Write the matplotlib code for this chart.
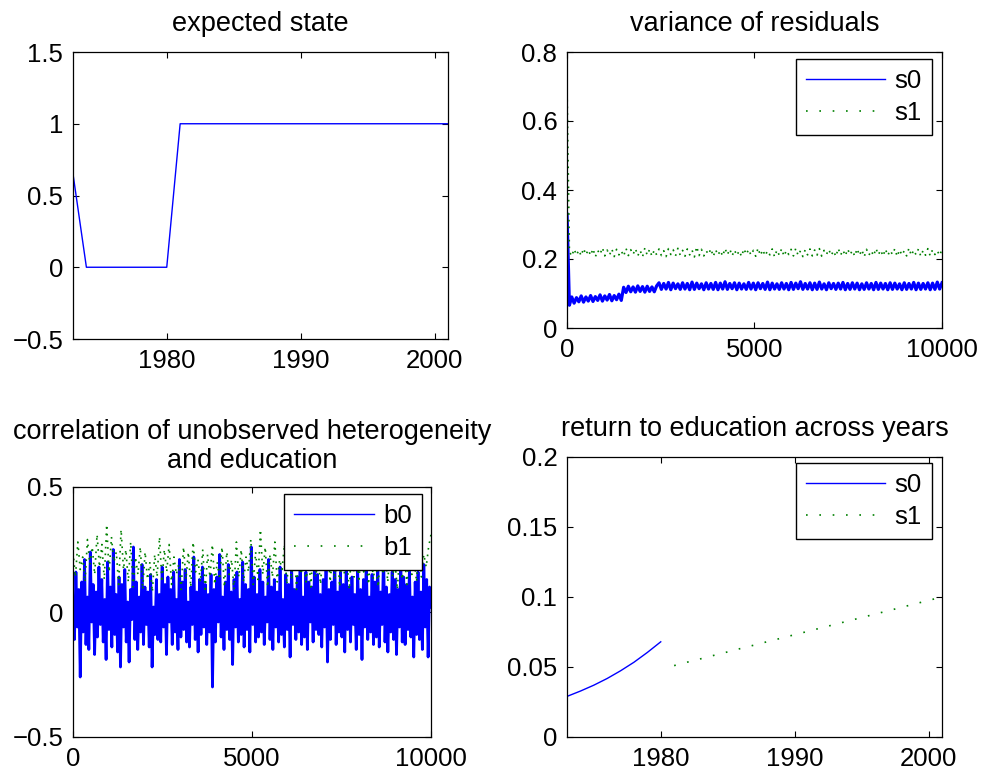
import numpy as np
import matplotlib
matplotlib.use("Agg")
import matplotlib.pyplot as plt
from matplotlib.lines import Line2D

plt.rcParams['font.family'] = ['Liberation Sans', 'DejaVu Sans']
FS = 18.5
TFS = 19.5

# ---------------- data ----------------
years_state = list(range(1973, 2002))
expected_state = [0.65] + [0.0] * 7 + [1.0] * 21

state_xticks = [1980, 1990, 2000]
state_yticks = [-0.5, 0, 0.5, 1, 1.5]
state_yticklabels = ['\u22120.5', '0', '0.5', '1', '1.5']

var_s0 = [
    0.330, 0.066, 0.090, 0.072, 0.088, 0.076, 0.093, 0.075, 0.090, 0.078,
    0.094, 0.077, 0.091, 0.080, 0.096, 0.078, 0.093, 0.081, 0.097, 0.079,
    0.094, 0.082, 0.098, 0.080, 0.118, 0.103, 0.121, 0.105, 0.119, 0.104,
    0.122, 0.106, 0.120, 0.104, 0.121, 0.106, 0.119, 0.105, 0.122, 0.131,
    0.112, 0.129, 0.113, 0.132, 0.111, 0.130, 0.114, 0.128, 0.112, 0.131,
    0.113, 0.129, 0.111, 0.133, 0.112, 0.130, 0.114, 0.128, 0.111, 0.131,
    0.113, 0.129, 0.112, 0.132, 0.111, 0.130, 0.113, 0.134, 0.112, 0.129,
    0.114, 0.131, 0.111, 0.130, 0.113, 0.128, 0.112, 0.132, 0.113, 0.130,
    0.111, 0.131, 0.114, 0.129, 0.112, 0.133, 0.111, 0.130, 0.113, 0.128,
    0.112, 0.131, 0.113, 0.129, 0.111, 0.132, 0.112, 0.130, 0.114, 0.134,
    0.112, 0.129, 0.113, 0.131, 0.111, 0.130, 0.112, 0.133, 0.113, 0.128,
    0.111, 0.131, 0.114, 0.129, 0.112, 0.130, 0.113, 0.132, 0.111, 0.129,
    0.112, 0.131, 0.113, 0.130, 0.111, 0.128, 0.112, 0.131, 0.113, 0.129,
    0.111, 0.132, 0.112, 0.130, 0.113, 0.129, 0.111, 0.131, 0.112, 0.130,
    0.113, 0.128, 0.111, 0.131, 0.112, 0.129, 0.113, 0.132, 0.111, 0.130,
    0.112, 0.129, 0.113, 0.131, 0.111, 0.130, 0.112, 0.133, 0.113, 0.131,
]
var_s1 = [
    0.700, 0.222, 0.208, 0.229, 0.211, 0.226, 0.209, 0.231, 0.212, 0.227,
    0.210, 0.230, 0.206, 0.225, 0.213, 0.233, 0.209, 0.226, 0.211, 0.229,
    0.207, 0.228, 0.212, 0.224, 0.208, 0.231, 0.210, 0.227, 0.213, 0.230,
    0.209, 0.225, 0.206, 0.232, 0.211, 0.228, 0.208, 0.226, 0.212, 0.229,
    0.210, 0.224, 0.207, 0.230, 0.213, 0.227, 0.209, 0.231, 0.211, 0.225,
    0.208, 0.229, 0.212, 0.226, 0.206, 0.236, 0.210, 0.228, 0.209, 0.224,
    0.213, 0.230, 0.207, 0.227, 0.211, 0.225, 0.208, 0.231, 0.212, 0.229,
    0.209, 0.226, 0.210, 0.224, 0.207, 0.230, 0.213, 0.228, 0.211, 0.225,
    0.208, 0.232, 0.210, 0.227, 0.209, 0.224, 0.212, 0.229, 0.206, 0.226,
    0.211, 0.230, 0.208, 0.225, 0.213, 0.228, 0.209, 0.231, 0.210, 0.224,
    0.207, 0.227, 0.212, 0.229, 0.209, 0.226, 0.211, 0.230, 0.208, 0.225,
    0.213, 0.228, 0.210, 0.224, 0.207, 0.231, 0.211, 0.226, 0.209, 0.229,
    0.212, 0.225, 0.208, 0.230, 0.210, 0.227, 0.206, 0.228, 0.211, 0.224,
    0.209, 0.231, 0.212, 0.226, 0.208, 0.229, 0.210, 0.225, 0.213, 0.230,
    0.207, 0.227, 0.211, 0.224, 0.209, 0.232, 0.210, 0.226, 0.212, 0.229,
    0.208, 0.225, 0.211, 0.230, 0.209, 0.227, 0.213, 0.224, 0.210, 0.228,
]
trace_xticks = [0, 5000, 10000]
var_yticks = [0, 0.2, 0.4, 0.6, 0.8]
var_yticklabels = ['0', '0.2', '0.4', '0.6', '0.8']

corr_b0 = [
    0.03, -0.11, 0.16, -0.06, 0.09, -0.26, 0.12, -0.08, 0.21, -0.13,
    0.06, -0.15, 0.24, -0.04, 0.11, -0.17, 0.08, -0.10, 0.18, -0.05,
    0.13, -0.12, 0.05, -0.19, 0.20, -0.07, 0.10, -0.14, 0.25, -0.09,
    0.07, -0.16, 0.14, -0.22, 0.11, -0.06, 0.17, -0.12, 0.04, -0.20,
    0.09, -0.03, 0.26, -0.11, 0.12, -0.15, 0.06, -0.08, 0.19, -0.13,
    0.10, -0.05, 0.08, -0.14, 0.15, -0.22, 0.02, -0.09, 0.13, -0.11,
    0.07, -0.12, 0.18, -0.06, 0.11, -0.17, 0.14, -0.04, 0.09, -0.13,
    0.16, -0.08, 0.05, -0.15, 0.21, -0.10, 0.12, -0.07, 0.17, -0.12,
    0.04, -0.14, 0.10, -0.05, 0.22, -0.11, 0.08, -0.16, 0.13, -0.09,
    0.18, -0.06, 0.11, -0.13, 0.07, -0.08, 0.15, -0.30, 0.09, -0.12,
    0.14, -0.04, 0.23, -0.10, 0.06, -0.15, 0.12, -0.07, 0.19, -0.11,
    0.08, -0.21, 0.13, -0.06, 0.16, -0.12, 0.05, -0.09, 0.20, -0.14,
    0.11, -0.07, 0.09, -0.16, 0.26, -0.05, 0.14, -0.12, 0.07, -0.10,
    0.17, -0.08, 0.12, -0.13, 0.06, -0.04, 0.21, -0.11, 0.10, -0.15,
    0.13, -0.06, 0.08, -0.12, 0.18, -0.09, 0.05, -0.14, 0.15, -0.07,
    0.11, -0.18, 0.19, -0.05, 0.09, -0.11, 0.14, -0.08, 0.23, -0.13,
    0.06, -0.10, 0.16, -0.15, 0.12, -0.04, 0.10, -0.12, 0.20, -0.07,
    0.15, -0.09, 0.07, -0.14, 0.13, -0.06, 0.18, -0.20, 0.09, -0.11,
    0.12, -0.05, 0.22, -0.13, 0.08, -0.08, 0.16, -0.10, 0.11, -0.16,
    0.19, -0.07, 0.10, -0.12, 0.14, -0.05, 0.07, -0.15, 0.17, -0.09,
    0.09, -0.19, 0.13, -0.06, 0.21, -0.11, 0.06, -0.08, 0.15, -0.13,
    0.12, -0.10, 0.18, -0.14, 0.08, -0.05, 0.24, -0.12, 0.10, -0.16,
    0.07, -0.08, 0.16, -0.11, 0.13, -0.17, 0.09, -0.06, 0.20, -0.12,
    0.14, -0.13, 0.11, -0.07, 0.17, -0.10, 0.06, -0.18, 0.12, -0.09,
    0.16, -0.11, 0.08, -0.15, 0.19, -0.06, 0.13, -0.18, 0.10, 0.02,
]
corr_b1 = [
    0.24, 0.14, 0.28, 0.17, 0.22, 0.12, 0.29, 0.19, 0.26, 0.15,
    0.31, 0.18, 0.27, 0.13, 0.35, 0.16, 0.30, 0.20, 0.24, 0.11,
    0.33, 0.17, 0.25, 0.12, 0.28, 0.10, 0.22, 0.15, 0.26, 0.09,
    0.24, 0.13, 0.20, 0.08, 0.23, 0.14, 0.30, 0.12, 0.25, 0.16,
    0.27, 0.11, 0.22, 0.15, 0.19, 0.09, 0.26, 0.13, 0.24, 0.10,
    0.28, 0.16, 0.21, 0.12, 0.25, 0.08, 0.23, 0.14, 0.27, 0.11,
    0.20, 0.13, 0.26, 0.10, 0.24, 0.15, 0.21, 0.09, 0.28, 0.14,
    0.25, 0.12, 0.22, 0.16, 0.29, 0.11, 0.24, 0.13, 0.33, 0.15,
    0.26, 0.10, 0.23, 0.14, 0.28, 0.12, 0.21, 0.17, 0.27, 0.11,
    0.24, 0.13, 0.30, 0.09, 0.22, 0.15, 0.26, 0.12, 0.23, 0.10,
    0.27, 0.14, 0.21, 0.11, 0.25, 0.16, 0.29, 0.12, 0.22, 0.13,
    0.26, 0.10, 0.24, 0.15, 0.20, 0.09, 0.27, 0.14, 0.23, 0.12,
    0.28, 0.16, 0.22, 0.11, 0.25, 0.13, 0.21, 0.10, 0.26, 0.15,
    0.23, 0.12, 0.27, 0.14, 0.20, 0.09, 0.24, 0.13, 0.22, 0.11,
    0.25, 0.15, 0.21, 0.12, 0.28, 0.14, 0.23, 0.18, 0.26, 0.31,
]
corr_yticks = [-0.5, 0, 0.5]
corr_yticklabels = ['\u22120.5', '0', '0.5']

ret_years_s0 = list(range(1973, 1981))
ret_s0 = [0.029, 0.0328, 0.0370, 0.0418, 0.0473, 0.0534, 0.0604, 0.068]
ret_years_s1 = list(range(1981, 2002))
ret_s1 = [0.0510, 0.0535, 0.0559, 0.0584, 0.0608, 0.0633, 0.0657, 0.0682,
          0.0706, 0.0731, 0.0755, 0.0780, 0.0804, 0.0829, 0.0853, 0.0878,
          0.0902, 0.0927, 0.0951, 0.0976, 0.1000]
ret_yticks = [0, 0.05, 0.1, 0.15, 0.2]
ret_yticklabels = ['0', '0.05', '0.1', '0.15', '0.2']

BLUE = (0, 0, 1)
GREEN = (0, 0.5, 0)

# ---------------- figure ----------------
W, H = 995, 779
fig = plt.figure(figsize=(W / 100, H / 100), dpi=100)


def add_ax(x1, y1, x2, y2):
    return fig.add_axes([x1 / W, 1 - y2 / H, (x2 - x1) / W, (y2 - y1) / H])


def style(ax):
    for s in ax.spines.values():
        s.set_linewidth(0.9)
        s.set_zorder(5)
    ax.tick_params(direction='in', length=4, width=0.8, top=True, right=True,
                   labelsize=FS, pad=7)


def legend(ax, handles, labels, x2, y1):
    leg = ax.legend(handles, labels, loc='upper right',
                    bbox_to_anchor=(x2 / W, 1 - y1 / H),
                    bbox_transform=fig.transFigure, fontsize=FS,
                    fancybox=False, framealpha=1, edgecolor='black',
                    borderpad=0.4, handlelength=3.1, handletextpad=0.35,
                    labelspacing=0.3, borderaxespad=0)
    leg.get_frame().set_linewidth(1.0)
    leg.set_zorder(10)
    return leg


dot_legend = (0, (1, 7))
dot_cloud = (0, (1, 3))

# 1. expected state
ax1 = add_ax(73, 52, 448, 339)
ax1.plot(years_state, expected_state, color=BLUE, lw=1.0)
ax1.set_xlim(1973, 2001)
ax1.set_ylim(-0.5, 1.5)
ax1.set_xticks(state_xticks)
ax1.set_xticklabels([str(v) for v in state_xticks])
ax1.set_yticks(state_yticks)
ax1.set_yticklabels(state_yticklabels)
ax1.set_title('expected state', fontsize=TFS, pad=15)
style(ax1)

# 2. variance of residuals
ax2 = add_ax(567, 52, 942, 328)
it_s0 = np.linspace(1, 10000, len(var_s0))
it_s1 = np.linspace(1, 10000, len(var_s1))
ax2.plot(it_s0, var_s0, color=BLUE, lw=2.3)
ax2.plot(it_s1, var_s1, color=GREEN, lw=1.2, ls=dot_cloud)
ax2.set_xlim(0, 10000)
ax2.set_ylim(0, 0.8)
ax2.set_xticks(trace_xticks)
ax2.set_xticklabels([str(v) for v in trace_xticks])
ax2.set_yticks(var_yticks)
ax2.set_yticklabels(var_yticklabels)
ax2.set_title('variance of residuals', fontsize=TFS, pad=15)
style(ax2)
legend(ax2, [Line2D([], [], color=BLUE, lw=1.0),
             Line2D([], [], color=GREEN, lw=1.2, ls=dot_legend)],
       ['s0', 's1'], 932, 59)

# 3. correlation
ax3 = add_ax(73, 487, 431, 737)
it_b0 = np.linspace(1, 10000, len(corr_b0))
it_b1 = np.linspace(1, 10000, len(corr_b1))
ax3.plot(it_b0, corr_b0, color=BLUE, lw=2.0)
ax3.plot(it_b1, corr_b1, color=GREEN, lw=1.2, ls=dot_cloud)
ax3.set_xlim(0, 10000)
ax3.set_ylim(-0.5, 0.5)
ax3.set_xticks(trace_xticks)
ax3.set_xticklabels([str(v) for v in trace_xticks])
ax3.set_yticks(corr_yticks)
ax3.set_yticklabels(corr_yticklabels)
ax3.set_title('correlation of unobserved heterogeneity\nand education',
              fontsize=TFS, pad=14, linespacing=1.12)
style(ax3)
legend(ax3, [Line2D([], [], color=BLUE, lw=1.0),
             Line2D([], [], color=GREEN, lw=1.2, ls=dot_legend)],
       ['b0', 'b1'], 422, 494)

# 4. return to education
ax4 = add_ax(567, 457, 942, 737)
ax4.plot(ret_years_s0, ret_s0, color=BLUE, lw=1.0)
ax4.plot(ret_years_s1, ret_s1, color=GREEN, lw=1.2, ls=dot_legend)
ax4.set_xlim(1973, 2001)
ax4.set_ylim(0, 0.2)
ax4.set_xticks(state_xticks)
ax4.set_xticklabels([str(v) for v in state_xticks])
ax4.set_yticks(ret_yticks)
ax4.set_yticklabels(ret_yticklabels)
ax4.set_title('return to education across years', fontsize=TFS, pad=15)
style(ax4)
legend(ax4, [Line2D([], [], color=BLUE, lw=1.0),
             Line2D([], [], color=GREEN, lw=1.2, ls=dot_legend)],
       ['s0', 's1'], 932, 463)

fig.savefig('out.png', dpi=100, facecolor='white')
